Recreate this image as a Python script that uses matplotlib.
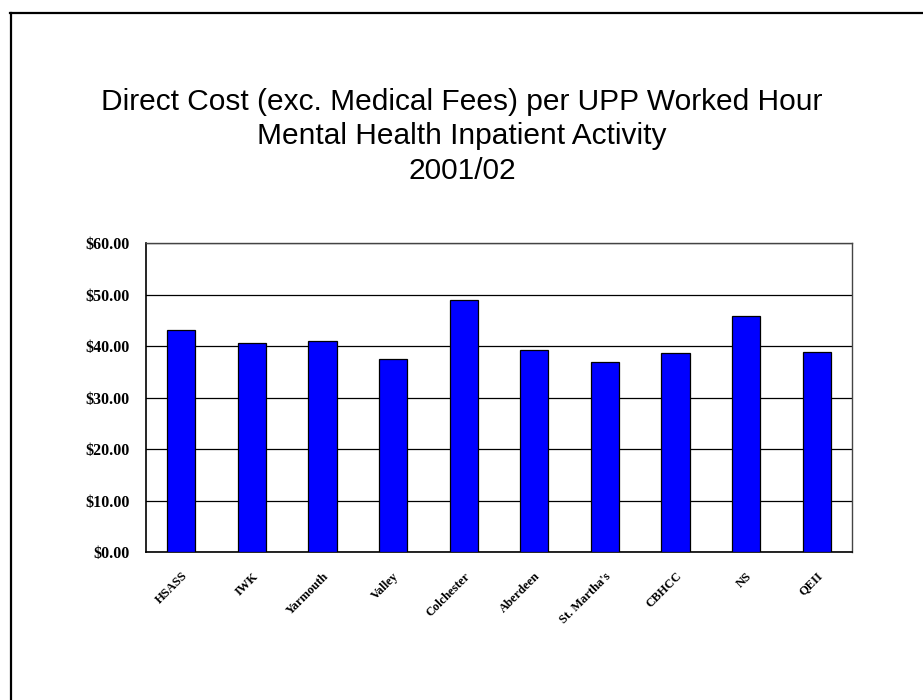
import numpy as np
import matplotlib.pyplot as plt
from matplotlib.lines import Line2D

# cost per UPP worked hour, 2001/02
sites = ["HSASS", "IWK", "Yarmouth", "Valley", "Colchester",
         "Aberdeen", "St. Martha's", "CBHCC", "NS", "QEII"]
cost = [43.1, 40.5, 40.9, 37.5, 48.9, 39.2, 36.8, 38.6, 45.8, 38.8]
yticks = [0, 10, 20, 30, 40, 50, 60]
title_lines = ["Direct Cost (exc. Medical Fees) per UPP Worked Hour",
               "Mental Health Inpatient Activity",
               "2001/02"]

W, H = 923, 700
fig = plt.figure(figsize=(W / 100, H / 100), dpi=100)

# slide border (top and left edges)
fig.add_artist(Line2D([10.5 / W, 10.5 / W], [1 - 12.5 / H, 0], color="black",
                      linewidth=1.6, transform=fig.transFigure))
fig.add_artist(Line2D([10 / W, 1], [1 - 12.5 / H, 1 - 12.5 / H], color="black",
                      linewidth=1.6, transform=fig.transFigure))

for i, line in enumerate(title_lines):
    fig.text(462 / W, 1 - (102 + 34.5 * i) / H, line, ha="center", va="center",
             fontsize=21.5, family="Liberation Sans")

ax = fig.add_axes([146 / W, 1 - 552 / H, (852 - 146) / W, (552 - 243) / H])
x = np.arange(len(sites))
ax.bar(x, cost, width=0.4, color="#0000ff", edgecolor="black", linewidth=0.9,
       zorder=3)

ax.set_xlim(-0.5, len(sites) - 0.5)
ax.set_ylim(0, 60)
ax.set_yticks(yticks)
ax.set_yticklabels(["${:.2f}".format(v) for v in yticks],
                   family="Liberation Serif", fontweight="bold", fontsize=11.5)
ax.yaxis.grid(True, color="black", linewidth=0.9, zorder=0)
ax.tick_params(axis="y", length=0, pad=12)

ax.set_xticks(x)
ax.set_xticklabels(sites, rotation=45, ha="right", rotation_mode="anchor",
                   family="Liberation Serif", fontweight="bold", fontsize=9)
ax.tick_params(axis="x", length=0, pad=13)

for side in ["left", "bottom"]:
    ax.spines[side].set_color("black")
    ax.spines[side].set_linewidth(1.2)
for side in ["right", "top"]:
    ax.spines[side].set_color("#444444")
    ax.spines[side].set_linewidth(1.0)

fig.savefig("out.png", dpi=100)
